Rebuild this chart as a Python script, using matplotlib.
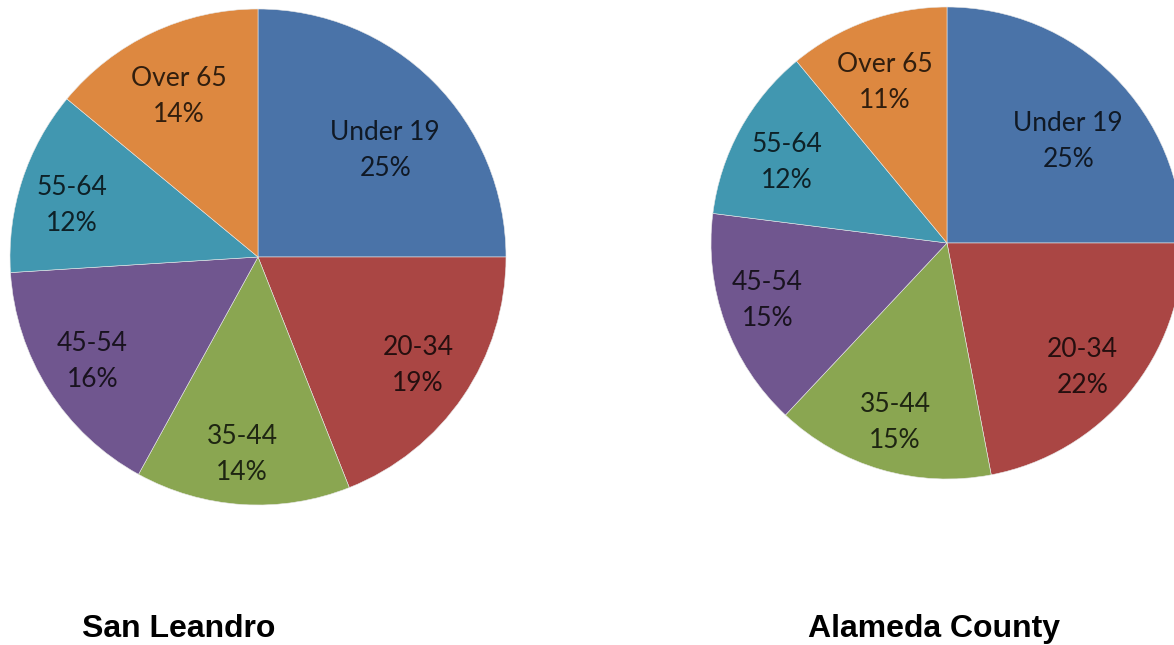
import matplotlib
matplotlib.use("Agg")
import matplotlib.pyplot as plt
from matplotlib.colors import to_rgb
import numpy as np

# Age distribution shares (percent)
age_groups = ["Under 19", "20-34", "35-44", "45-54", "55-64", "Over 65"]
san_leandro = [25, 19, 14, 16, 12, 14]
alameda_county = [25, 22, 15, 15, 12, 11]
titles = ["San Leandro", "Alameda County"]

colors = ["#4A73A8", "#AA4644", "#8AA651", "#70568F", "#4197B0", "#DD8840"]

W, H = 1174, 645
fig = plt.figure(figsize=(W / 100, H / 100), dpi=100)
fig.patch.set_facecolor("white")


def pie_axes(cx, cy, r):
    ax = fig.add_axes([(cx - r) / W, 1 - (cy + r) / H, 2 * r / W, 2 * r / H])
    ax.set_aspect("equal")
    return ax


def dark(c, k=0.22):
    return tuple(k * v for v in to_rgb(c))


def draw_pie(ax, values, label_dist, label_nudge):
    wedges, _ = ax.pie(values, colors=colors, startangle=90, counterclock=False,
                       radius=1.0, center=(0, 0), frame=True,
                       wedgeprops=dict(edgecolor="#e8e8e8", linewidth=0.4))
    ax.set_xlim(-1, 1)
    ax.set_ylim(-1, 1)
    ax.axis("off")
    for w, name, v, d, nd, c in zip(wedges, age_groups, values,
                                     label_dist, label_nudge, colors):
        mid = np.deg2rad((w.theta1 + w.theta2) / 2 + nd)
        ax.text(d * np.cos(mid), d * np.sin(mid), f"{name}\n{v}%",
                ha="center", va="center", fontsize=19, family="Lato",
                color=dark(c), linespacing=1.55)


ax1 = pie_axes(258, 257, 248)
draw_pie(ax1, san_leandro,
         [0.67, 0.78, 0.80, 0.79, 0.78, 0.72],
         [-5, 0, -1, 0, 2.5, 1])

ax2 = pie_axes(947, 243, 236)
draw_pie(ax2, alameda_county,
         [0.67, 0.78, 0.79, 0.80, 0.76, 0.73],
         [-5, -3, 0, -2, 2, 1.5])

for x, t in zip([179, 934], titles):
    fig.text(x / W, 1 - 629 / H, t, ha="center", va="center",
             fontsize=23, fontweight="bold", family="Liberation Sans",
             color="black")

fig.savefig("out.png", dpi=100, facecolor="white")
